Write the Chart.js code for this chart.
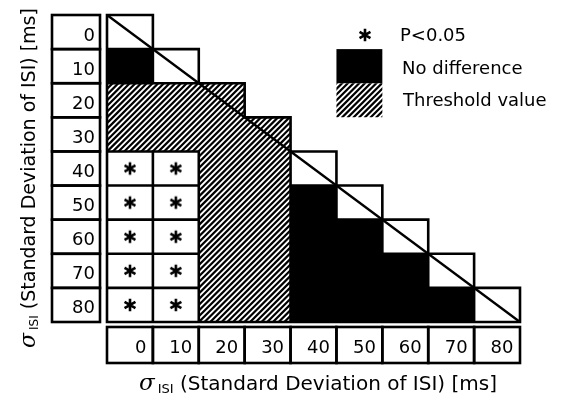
<!DOCTYPE html>
<html><head><meta charset="utf-8">
<script src="https://cdn.jsdelivr.net/npm/chart.js@4.4.0/dist/chart.umd.min.js"></script>
<style>html,body{margin:0;padding:0;background:#fff}#wrap{width:567px;height:394px;position:relative}</style>
</head><body><div id="wrap"><canvas id="c"></canvas></div>
<script>
const sdValues = [0, 10, 20, 30, 40, 50, 60, 70, 80];
const xTickLabels = ['0', '10', '20', '30', '40', '50', '60', '70', '80'];
const yTickLabels = ['0', '10', '20', '30', '40', '50', '60', '70', '80'];
// D = same SD (diagonal), B = no difference, H = threshold value, S = P<0.05, . = none
const cellRows = [
  'D........',
  'BD.......',
  'HHH......',
  'HHHH.....',
  'SSHHD....',
  'SSHHBD...',
  'SSHHBBD..',
  'SSHHBBBD.',
  'SSHHBBBBD'
];
const legendLabels = ['P<0.05', 'No difference', 'Threshold value'];
const axisSymbol = 'σ';
const axisSub = 'ISI';
const axisText = ' (Standard Deviation of ISI) [ms]';

const starPoints = [];
cellRows.forEach((row, r) => [...row].forEach((t, c) => { if (t === 'S') starPoints.push({x: c, y: r}); }));

const FONT = '"DejaVu Sans", sans-serif';
const BW = 2.6;

function makeStar(){
  const cv = document.createElement('canvas');
  cv.width = 16; cv.height = 16;
  const g = cv.getContext('2d');
  g.strokeStyle = '#000'; g.lineWidth = 2.6;
  g.beginPath();
  [90, 30, 150].forEach(a => {
    const rad = a * Math.PI / 180, R = 6.3;
    g.moveTo(8 - R * Math.cos(rad), 8 - R * Math.sin(rad));
    g.lineTo(8 + R * Math.cos(rad), 8 + R * Math.sin(rad));
  });
  g.stroke();
  return cv;
}
const starImg = makeStar();

function hatch(ctx, rects){
  if (!rects.length) return;
  let x0 = Infinity, y0 = Infinity, x1 = -Infinity, y1 = -Infinity;
  rects.forEach(r => { x0 = Math.min(x0, r.x); y0 = Math.min(y0, r.y); x1 = Math.max(x1, r.x + r.w); y1 = Math.max(y1, r.y + r.h); });
  ctx.save();
  ctx.beginPath();
  rects.forEach(r => ctx.rect(r.x, r.y, r.w, r.h));
  ctx.clip();
  ctx.strokeStyle = '#000'; ctx.lineWidth = 2.2;
  const s = 5.7, h = y1 - y0;
  ctx.beginPath();
  for (let k = x0 - h - s; k < x1 + s; k += s) { ctx.moveTo(k, y1); ctx.lineTo(k + h, y0); }
  ctx.stroke();
  ctx.restore();
}

function drawAxisTitle(ctx, x, y, size){
  ctx.textAlign = 'left'; ctx.textBaseline = 'alphabetic';
  ctx.font = 'italic ' + (size + 3) + 'px "DejaVu Serif", serif';
  ctx.fillText(axisSymbol, x, y);
  let w = ctx.measureText(axisSymbol).width + 3;
  ctx.font = Math.round(size * 0.65) + 'px ' + FONT;
  ctx.fillText(axisSub, x + w, y + 3);
  w += ctx.measureText(axisSub).width;
  ctx.font = size + 'px ' + FONT;
  ctx.fillText(axisText, x + w, y);
  w += ctx.measureText(axisText).width;
  return w;
}
function titleWidth(ctx, size){
  ctx.font = 'italic ' + (size + 3) + 'px "DejaVu Serif", serif';
  let w = ctx.measureText(axisSymbol).width + 3;
  ctx.font = Math.round(size * 0.65) + 'px ' + FONT;
  w += ctx.measureText(axisSub).width;
  ctx.font = size + 'px ' + FONT;
  w += ctx.measureText(axisText).width;
  return w;
}

const gridPlugin = {
  id: 'gridPlugin',
  beforeDatasetsDraw(chart){
    const ctx = chart.ctx, xs = chart.scales.x, ys = chart.scales.y;
    const X = v => xs.getPixelForValue(v), Y = v => ys.getPixelForValue(v);
    const n = cellRows.length;
    const type = (r, c) => (r < 0 || r >= n || c < 0 || c >= n) ? '.' : cellRows[r][c];
    const cellRect = (r, c) => ({x: X(c - 0.5), y: Y(r - 0.5), w: X(c + 0.5) - X(c - 0.5), h: Y(r + 0.5) - Y(r - 0.5)});
    ctx.save();
    const hatchRects = [];
    ctx.fillStyle = '#fff';
    for (let r = 0; r < n; r++) for (let c = 0; c < n; c++) {
      const t = type(r, c); if (t === '.') continue;
      const q = cellRect(r, c);
      ctx.fillRect(q.x, q.y, q.w, q.h);
      if (t === 'H') hatchRects.push(q);
    }
    // black cells as one merged path
    ctx.fillStyle = '#000';
    ctx.beginPath();
    for (let r = 0; r < n; r++) for (let c = 0; c < n; c++) {
      if (type(r, c) !== 'B') continue;
      const q = cellRect(r, c);
      ctx.rect(q.x - 0.5, q.y - 0.5, q.w + 1, q.h + 1);
    }
    ctx.fill('nonzero');
    hatch(ctx, hatchRects);
    // borders
    ctx.strokeStyle = '#000'; ctx.lineWidth = BW; ctx.lineCap = 'square';
    ctx.beginPath();
    for (let r = 0; r < n; r++) for (let c = 0; c < n; c++) {
      const t = type(r, c); if (t === '.') continue;
      const indiv = (t === 'S' || t === 'D');
      const need = nt => nt === '.' || nt !== t || indiv;
      const xa = X(c - 0.5), xb = X(c + 0.5), ya = Y(r - 0.5), yb = Y(r + 0.5);
      if (need(type(r - 1, c))) { ctx.moveTo(xa, ya); ctx.lineTo(xb, ya); }
      if (need(type(r + 1, c))) { ctx.moveTo(xa, yb); ctx.lineTo(xb, yb); }
      if (need(type(r, c - 1))) { ctx.moveTo(xa, ya); ctx.lineTo(xa, yb); }
      if (need(type(r, c + 1))) { ctx.moveTo(xb, ya); ctx.lineTo(xb, yb); }
    }
    ctx.stroke();
    // diagonal line
    ctx.lineWidth = 2.3; ctx.lineCap = 'butt';
    ctx.beginPath(); ctx.moveTo(X(-0.5), Y(-0.5)); ctx.lineTo(X(n - 0.5), Y(n - 0.5)); ctx.stroke();

    // y tick label boxes
    ctx.lineWidth = BW; ctx.lineCap = 'square';
    ctx.fillStyle = '#000';
    ctx.font = '18px ' + FONT; ctx.textAlign = 'right'; ctx.textBaseline = 'alphabetic';
    yTickLabels.forEach((lab, i) => {
      const ya = Y(i - 0.5), yb = Y(i + 0.5);
      ctx.strokeRect(52, ya, 48, yb - ya);
      ctx.fillText(lab, 95, (ya + yb) / 2 + 8.5);
    });
    // x tick label boxes
    xTickLabels.forEach((lab, i) => {
      const xa = X(i - 0.5), xb = X(i + 0.5);
      ctx.strokeRect(xa, 327, xb - xa, 36);
      ctx.fillText(lab, xb - 6.5, 352.5);
    });
    // x axis title
    const sz = 20;
    const tw = titleWidth(ctx, sz);
    drawAxisTitle(ctx, 318 - tw / 2, 390, sz);
    // y axis title
    ctx.save();
    ctx.translate(35, 178);
    ctx.rotate(-Math.PI / 2);
    const tw2 = titleWidth(ctx, 19);
    drawAxisTitle(ctx, -tw2 / 2, 0, 19);
    ctx.restore();

    // legend
    ctx.drawImage(starImg, 365 - 8, 35 - 8);
    ctx.fillStyle = '#000';
    ctx.fillRect(X(4.5), Y(0.5), X(5.5) - X(4.5), Y(1.5) - Y(0.5));
    hatch(ctx, [{x: X(4.5), y: Y(1.5), w: X(5.5) - X(4.5), h: Y(2.5) - Y(1.5)}]);
    ctx.fillStyle = '#000';
    ctx.font = '18px ' + FONT; ctx.textAlign = 'left';
    ctx.fillText(legendLabels[0], 400, 41);
    ctx.fillText(legendLabels[1], 402, 74);
    ctx.fillText(legendLabels[2], 403, 106);
    ctx.restore();
  }
};

new Chart(document.getElementById('c'), {
  type: 'scatter',
  data: {
    datasets: [{
      label: legendLabels[0],
      data: starPoints,
      pointStyle: starImg,
      pointRadius: 8,
      pointHoverRadius: 8
    }]
  },
  options: {
    responsive: true,
    maintainAspectRatio: false,
    animation: false,
    events: [],
    layout: { padding: { left: 107, right: 47, top: 15, bottom: 72 } },
    scales: {
      x: { type: 'linear', min: -0.5, max: 8.5, display: false },
      y: { type: 'linear', min: -0.5, max: 8.5, reverse: true, display: false }
    },
    plugins: { legend: { display: false }, tooltip: { enabled: false } }
  },
  plugins: [gridPlugin]
});
</script>
</body></html>
